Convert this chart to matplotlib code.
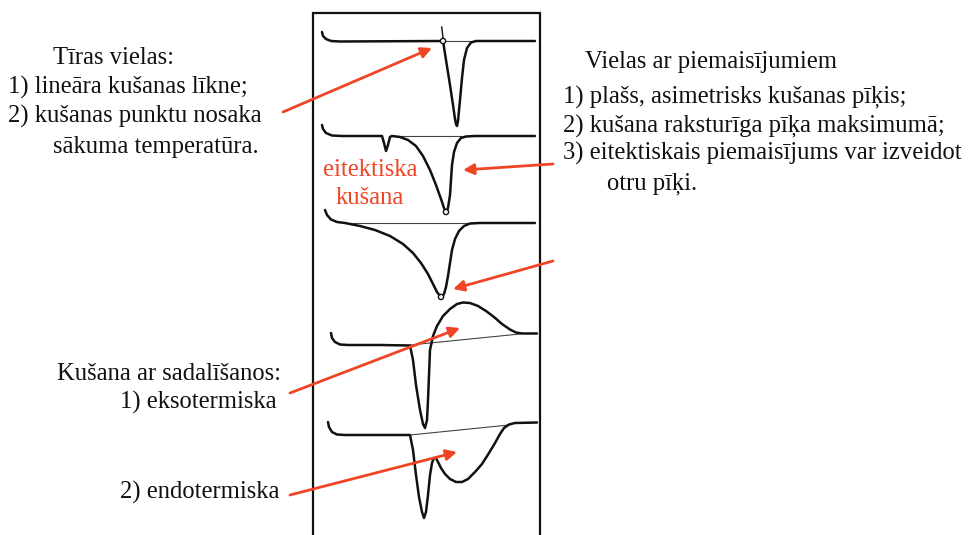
import matplotlib
matplotlib.use("Agg")
import matplotlib.pyplot as plt
from matplotlib.patches import Circle

plt.rcParams['font.family'] = ['Liberation Serif', 'DejaVu Serif']

# DSC curves, traced as (x, y) points in image pixels (y grows downward)
pure_x = [322, 323, 326, 331, 340, 443, 446, 450, 453, 455, 456, 457, 458, 460, 462, 464, 467, 471, 476, 535]
pure_y = [32, 36, 39, 41, 41.5, 41, 60, 85, 105, 119, 124, 126, 121, 100, 78, 60, 48, 42.5, 41, 41]

eut_x = [322, 323, 326, 332, 342, 382, 384, 386, 388, 390, 392, 400, 408, 416, 423, 430, 436, 441, 444, 446,
         448, 450, 451, 452, 454, 457, 461, 466, 475, 535]
eut_y = [125, 129, 133, 135.5, 136, 136, 143, 151, 145, 137, 136, 137, 140, 146, 156, 170, 185, 199, 208, 212,
         208, 195, 180, 165, 152, 143, 138, 136.5, 136, 136]

imp_x = [325, 327, 331, 337, 345, 360, 375, 390, 403, 413, 421, 428, 433, 437, 440, 442, 444, 446, 448, 450,
         452, 455, 459, 464, 470, 480, 535]
imp_y = [210, 215, 219.5, 222, 223, 226, 230, 236, 244, 253, 263, 274, 284, 292, 296, 297, 294, 287, 276, 263,
         250, 239, 231, 226, 223.5, 223, 223]

exo_x = [331, 332, 335, 340, 348, 380, 410, 413, 416, 420, 423, 425, 427, 428, 429, 430, 433, 437, 443, 450,
         457, 463, 470, 478, 486, 494, 502, 510, 516, 522, 537]
exo_y = [333, 338, 342, 344.5, 345, 345, 345.5, 360, 385, 410, 424, 428, 420, 400, 375, 350, 336, 326, 316, 309,
         304, 302.5, 303, 306, 311, 317, 324, 329.5, 332.5, 333.5, 333.5]

endo_x = [328, 329, 332, 337, 345, 380, 410, 413, 416, 419, 422, 424, 426, 428, 430, 432, 434, 436, 438, 441,
          445, 450, 456, 462, 468, 475, 482, 489, 495, 500, 504, 509, 515, 537]
endo_y = [422, 427, 432, 434.5, 435, 435, 435, 450, 475, 497, 512, 518, 512, 495, 475, 463, 458, 458, 462, 468,
          474, 479, 482, 482, 479, 472, 464, 453, 443, 434, 428, 424.5, 423, 422.5]

# interpolated baselines under the peaks: (x0, y0, x1, y1)
baselines = [(443, 41, 476, 41), (392, 136, 466, 136), (345, 223, 470, 223),
             (410, 345, 520, 334), (410, 435, 509, 425)]
# small circles marking the onset / peak points
markers = [(443, 41), (446, 212), (441, 297)]

curves = [(pure_x, pure_y), (eut_x, eut_y), (imp_x, imp_y), (exo_x, exo_y), (endo_x, endo_y)]

# text blocks: (x, baseline y, text)
left_top = [(53, 64, "Tīras vielas:"),
            (8, 94, "1) lineāra kušanas līkne;"),
            (8, 123, "2) kušanas punktu nosaka"),
            (53, 153, "sākuma temperatūra.")]
right_top = [(585, 68, "Vielas ar piemaisījumiem"),
             (563, 103, "1) plašs, asimetrisks kušanas pīķis;"),
             (563, 132, "2) kušana raksturīga pīķa maksimumā;"),
             (563, 160, "3) eitektiskais piemaisījums var izveidot"),
             (607, 189, "otru pīķi.")]
left_bottom = [(57, 380, "Kušana ar sadalīšanos:"),
               (120, 409, "1) eksotermiska"),
               (120, 499, "2) endotermiska")]
red_label = [(370, 176, "eitektiska"), (370, 204, "kušana")]

# red pointers: (tail, head)
arrows = [((283, 112), (432, 48)),
          ((553, 164), (463, 170)),
          ((553, 261), (453, 289)),
          ((290, 393), (460, 328)),
          ((290, 495), (457, 452))]

red = '#ef4526'
fs = 17.7

fig = plt.figure(figsize=(9.69, 5.35), dpi=100)
ax = fig.add_axes([0, 0, 1, 1])
ax.set_xlim(0, 969)
ax.set_ylim(535, 0)
ax.axis('off')

# frame around the curves
ax.plot([313, 313, 540, 540], [535, 13, 13, 535], color='#111111', lw=1.6, solid_joinstyle='miter')

for x0, y0, x1, y1 in baselines:
    ax.plot([x0, x1], [y0, y1], color='#444444', lw=0.8)
for xs, ys in curves:
    ax.plot(xs, ys, color='#111111', lw=1.8, solid_joinstyle='round', solid_capstyle='round')
ax.plot([441.7, 443.3], [27, 40], color='#111111', lw=1.0)
for cx, cy in markers:
    ax.add_patch(Circle((cx, cy), 2.6, facecolor='white', edgecolor='#111111', lw=1.0, zorder=3))

for x, y, s in left_top + right_top + left_bottom:
    ax.text(x, y, s, fontsize=fs, ha='left', va='baseline', color='#111111')
for x, y, s in red_label:
    ax.text(x, y, s, fontsize=fs, ha='center', va='baseline', color=red)

for tail, head in arrows:
    ax.annotate('', xy=head, xytext=tail, xycoords='data', textcoords='data',
                arrowprops=dict(arrowstyle='-|>', color=red, lw=2.0, mutation_scale=16,
                                shrinkA=0, shrinkB=0))

fig.savefig('out.png', dpi=100)
